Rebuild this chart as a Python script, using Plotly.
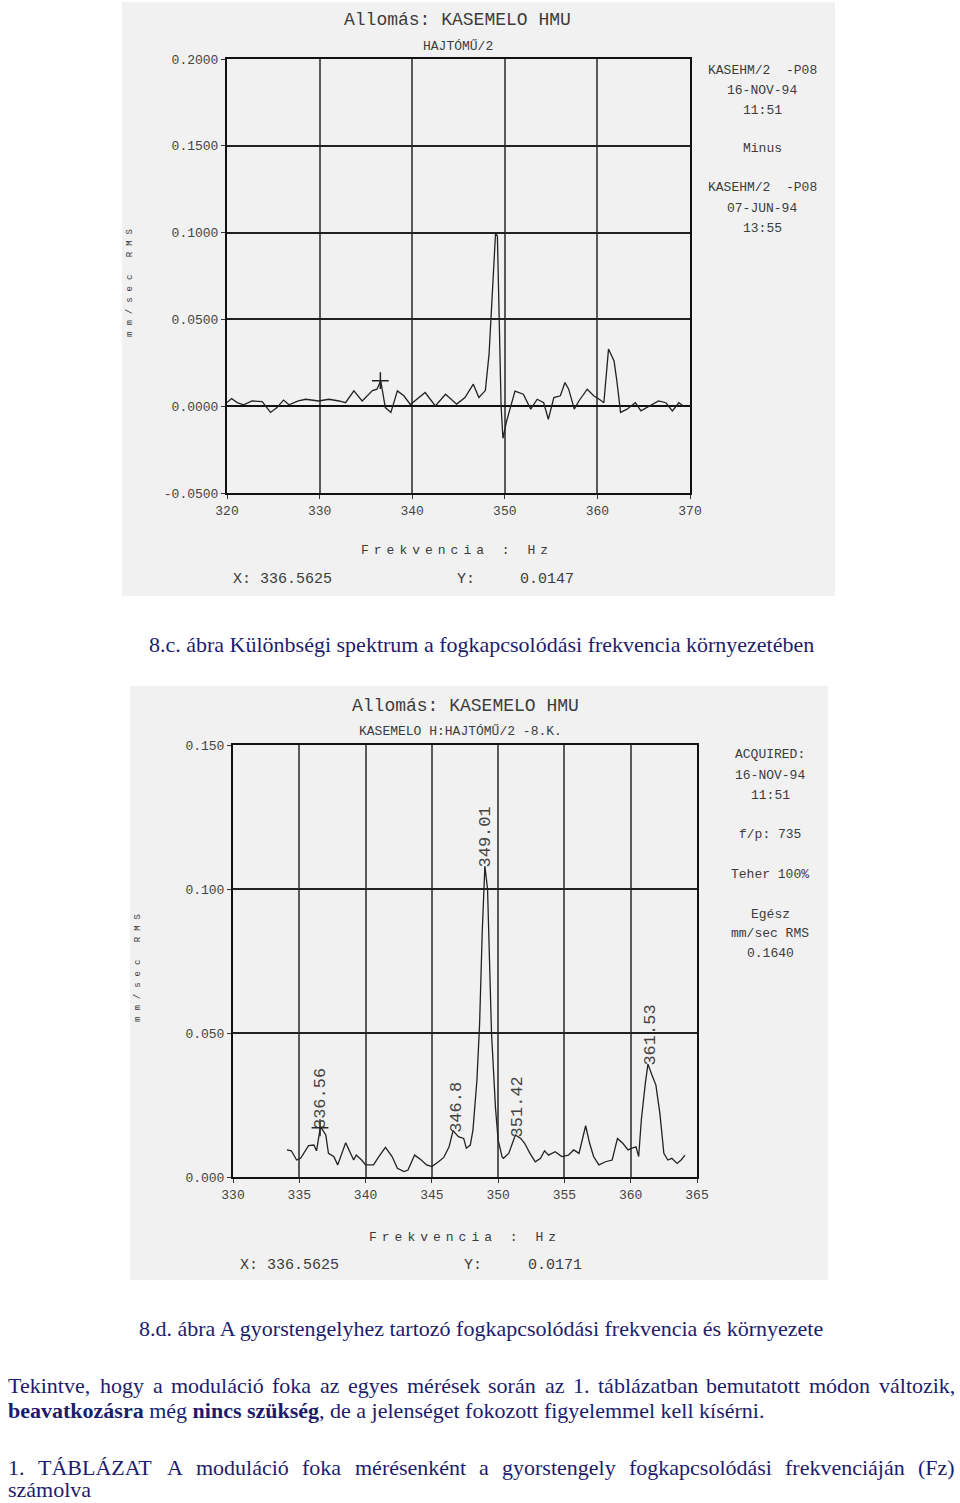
import plotly.graph_objects as go

W, H = 960, 1503

# ---------------- data: top chart (difference spectrum) ----------------
top_freq = [320.0, 320.5, 321.1, 321.8, 322.7, 323.8, 324.7, 325.4, 326.1, 326.7,
            327.7, 328.5, 329.9, 331.0, 332.1, 332.8, 333.7, 334.6, 335.7, 336.2,
            336.6, 337.1, 337.7, 338.4, 339.1, 339.8, 341.4, 342.5, 343.6, 344.8,
            345.7, 346.6, 347.2, 347.9, 348.3, 348.7, 349.0, 349.2, 349.4, 349.6,
            349.8, 350.2, 351.1, 352.0, 352.8, 353.5, 354.2, 354.7, 355.3, 356.0,
            356.5, 356.9, 357.5, 358.0, 358.9, 359.6, 360.2, 360.7, 361.2, 361.8,
            362.1, 362.5, 363.2, 364.1, 364.7, 365.6, 366.6, 367.4, 368.1, 368.8,
            369.3]
top_amp = [0.0021, 0.0044, 0.0021, 0.0008, 0.0030, 0.0027, -0.0036, -0.0008, 0.0035, 0.0008,
           0.0030, 0.0040, 0.0030, 0.0040, 0.0030, 0.0020, 0.0088, 0.0030, 0.0090, 0.0098,
           0.0146, -0.0008, -0.0036, 0.0088, 0.0060, 0.0010, 0.0079, 0.0002, 0.0069, 0.0012,
           0.0050, 0.0127, 0.0050, 0.0090, 0.0300, 0.0700, 0.0995, 0.0980, 0.0500, 0.0000,
           -0.0185, -0.0085, 0.0087, 0.0069, -0.0017, 0.0040, 0.0020, -0.0075, 0.0050, 0.0060,
           0.0136, 0.0098, -0.0017, 0.0030, 0.0098, 0.0060, 0.0040, 0.0020, 0.0329, 0.0260,
           0.0146, -0.0036, -0.0017, 0.0020, -0.0027, 0.0000, 0.0030, 0.0020, -0.0027, 0.0020,
           0.0000]

top_xticks = [320, 330, 340, 350, 360, 370]
top_yticks = [-0.05, 0.0, 0.05, 0.10, 0.15, 0.20]
top_ytext = ["-0.0500", "0.0000", "0.0500", "0.1000", "0.1500", "0.2000"]
top_cursor_x = 336.5625
top_cursor_y = 0.0147

# ---------------- data: bottom chart (spectrum) ----------------
bot_freq = [334.07, 334.4, 334.8, 335.1, 335.7, 336.1, 336.3, 336.6, 337.0, 337.2,
            337.6, 337.9, 338.5, 338.8, 339.1, 339.3, 339.7, 340.0, 340.6, 341.0,
            341.5, 342.0, 342.4, 342.9, 343.2, 343.7, 344.2, 344.6, 345.0, 345.5,
            345.9, 346.3, 346.6, 347.0, 347.4, 347.6, 347.9, 348.1, 348.4, 348.6,
            348.8, 349.0, 349.2, 349.5, 349.8, 350.0, 350.3, 350.4, 350.8, 351.3,
            351.7, 352.0, 352.4, 352.8, 353.2, 353.5, 353.8, 354.3, 354.8, 355.3,
            355.7, 356.1, 356.6, 356.9, 357.2, 357.6, 358.1, 358.6, 359.0, 359.4,
            359.8, 360.1, 360.4, 360.6, 360.8, 361.1, 361.3, 361.6, 361.9, 362.2,
            362.5, 362.8, 363.1, 363.5, 363.8, 364.1]
bot_amp = [0.0094, 0.0091, 0.0059, 0.0065, 0.0109, 0.0111, 0.0091, 0.0175, 0.0146, 0.0082,
           0.0071, 0.0042, 0.0119, 0.0088, 0.0059, 0.0076, 0.0059, 0.0042, 0.0042, 0.0071,
           0.0103, 0.0071, 0.0030, 0.0019, 0.0024, 0.0076, 0.0059, 0.0042, 0.0036, 0.0053,
           0.0068, 0.0105, 0.0161, 0.0140, 0.0134, 0.0100, 0.0111, 0.0163, 0.0337, 0.0530,
           0.0850, 0.1080, 0.1000, 0.0500, 0.0240, 0.0128, 0.0070, 0.0065, 0.0082, 0.0146,
           0.0134, 0.0117, 0.0082, 0.0053, 0.0065, 0.0091, 0.0076, 0.0088, 0.0071, 0.0076,
           0.0094, 0.0082, 0.0178, 0.0117, 0.0071, 0.0042, 0.0053, 0.0059, 0.0134, 0.0117,
           0.0094, 0.0100, 0.0105, 0.0071, 0.0198, 0.0325, 0.0392, 0.0354, 0.0319, 0.0221,
           0.0082, 0.0059, 0.0065, 0.0047, 0.0059, 0.0076]

bot_xticks = [330, 335, 340, 345, 350, 355, 360, 365]
bot_yticks = [0.0, 0.05, 0.10, 0.15]
bot_ytext = ["0.000", "0.050", "0.100", "0.150"]
bot_cursor_x = 336.5625
bot_cursor_y = 0.0171

peak_freqs = [336.56, 346.8, 349.01, 351.42, 361.53]
peak_labels = ["336.56", "346.8", "349.01", "351.42", "361.53"]

# ---------------- texts ----------------
top_title = "Allomás: KASEMELO HMU"
top_sub = "HAJTÓMŰ/2"
top_side = ["KASEHM/2\u00a0\u00a0-P08", "16-NOV-94", "11:51", "Minus",
            "KASEHM/2\u00a0\u00a0-P08", "07-JUN-94", "13:55"]
bot_title = "Allomás: KASEMELO HMU"
bot_sub = "KASEMELO H:HAJTÓMŰ/2 -8.K."
bot_side = ["ACQUIRED:", "16-NOV-94", "11:51", "f/p: 735", "Teher 100%",
            "Egész", "mm/sec RMS", "0.1640"]
ylabel = "mm/sec RMS"
xlabel = "Frekvencia : Hz"
caption_c = "8.c. ábra Különbségi spektrum a fogkapcsolódási frekvencia környezetében"
caption_d = "8.d. ábra A gyorstengelyhez tartozó fogkapcsolódási frekvencia és környezete"
body_line1 = "Tekintve, hogy a moduláció foka az egyes mérések során az 1. táblázatban bemutatott módon változik,"
body_line2 = "<b>beavatkozásra</b> még <b>nincs szükség</b>, de a jelenséget fokozott figyelemmel kell kísérni."
body_line3 = "1. TÁBLÁZAT A moduláció foka mérésenként a gyorstengely fogkapcsolódási frekvenciáján (Fz)"
body_line4 = "számolva"

MONO = "Liberation Mono"
SERIF = "Liberation Serif"
NAVY = "#1c1c6e"
PANEL = "#f1f1f1"
TXT = "#3c3c3c"
BODY = 22

# Times-compatible advance widths (1/1000 em) used to justify body lines
_TW = {' ': 250, ',': 250, '.': 250, '(': 333, ')': 333, ':': 278, '%': 833}
_TW.update({d: 500 for d in "0123456789"})
_TW.update(dict(zip("abcdefghijklmnopqrstuvwxyz",
                    [444, 500, 444, 500, 444, 333, 500, 500, 278, 278, 500, 278, 778,
                     500, 500, 500, 500, 333, 389, 278, 500, 500, 722, 500, 500, 444])))
_TW.update(dict(zip("ABCDEFGHIJKLMNOPQRSTUVWXYZ",
                    [722, 667, 667, 722, 611, 556, 722, 722, 333, 389, 722, 611, 889,
                     722, 722, 556, 722, 667, 556, 611, 722, 722, 944, 722, 722, 611])))
_BASE = str.maketrans("áéíóöőúüűÁÉÍÓÖŐÚÜŰ", "aeiooouuuAEIOOOUUU")


def word_width(w, size):
    return sum(_TW.get(c, 500) for c in w.translate(_BASE)) * size / 1000.0


def px(x):
    return x / W


def py(y):
    return 1 - y / H


fig = go.Figure()
fig.add_trace(go.Scatter(x=top_freq, y=top_amp, xaxis="x", yaxis="y", mode="lines",
                         line=dict(color="#222222", width=1.3), hoverinfo="skip"))
fig.add_trace(go.Scatter(x=[top_cursor_x], y=[top_cursor_y], xaxis="x", yaxis="y",
                         mode="markers", marker=dict(symbol="cross-thin", size=12,
                                                      line=dict(color="#222222", width=1.5))))
fig.add_trace(go.Scatter(x=bot_freq, y=bot_amp, xaxis="x2", yaxis="y2", mode="lines",
                         line=dict(color="#222222", width=1.3), hoverinfo="skip"))
fig.add_trace(go.Scatter(x=[bot_cursor_x], y=[bot_cursor_y], xaxis="x2", yaxis="y2",
                         mode="markers", marker=dict(symbol="cross-thin", size=12,
                                                      line=dict(color="#222222", width=1.5))))

axis_common = dict(showgrid=True, gridwidth=2, showline=True,
                   linecolor="#111111", linewidth=2, mirror=True, ticks="outside",
                   ticklen=4, tickcolor="#333333", zeroline=False, automargin=False,
                   tickfont=dict(family=MONO, size=13, color="#444444"))

fig.update_layout(
    width=W, height=H, margin=dict(l=0, r=0, t=0, b=0, pad=0, autoexpand=False),
    paper_bgcolor="white", plot_bgcolor=PANEL, showlegend=False,
    xaxis=dict(domain=[px(227), px(690)], range=[320, 370], tickvals=top_xticks,
               anchor="y", gridcolor="#5a5a5a", **axis_common),
    yaxis=dict(domain=[py(493), py(59)], range=[-0.05, 0.2], tickvals=top_yticks,
               ticktext=top_ytext, anchor="x", gridcolor="#222222", **axis_common),
    xaxis2=dict(domain=[px(233), px(697)], range=[330, 365], tickvals=bot_xticks,
                anchor="y2", gridcolor="#5a5a5a", **axis_common),
    yaxis2=dict(domain=[py(1177), py(745)], range=[0, 0.15], tickvals=bot_yticks,
                ticktext=bot_ytext, anchor="x2", gridcolor="#222222", **axis_common),
)
fig.update_yaxes(selector=dict(anchor="x"), zeroline=True, zerolinecolor="#111111",
                 zerolinewidth=2)

# panel backgrounds
fig.add_shape(type="rect", xref="paper", yref="paper", x0=px(122), x1=px(835),
              y0=py(596), y1=py(2), fillcolor=PANEL, line=dict(width=0), layer="below")
fig.add_shape(type="rect", xref="paper", yref="paper", x0=px(130), x1=px(828),
              y0=py(1280), y1=py(686), fillcolor=PANEL, line=dict(width=0), layer="below")

ann = []


def text(t, x, y, size, family=MONO, color=TXT, xanchor="center", angle=0):
    ann.append(dict(text=t, x=px(x), y=py(y), xref="paper", yref="paper",
                    xanchor=xanchor, yanchor="middle", showarrow=False, textangle=angle,
                    borderpad=0, font=dict(family=family, size=size, color=color)))


def spaced(t, sp):
    return '<span style="letter-spacing:%dpx">%s</span>' % (sp, t)


def justified(line, x0, x1, y, size):
    words = line.split(" ")
    widths = [word_width(w, size) for w in words]
    gap = (x1 - x0 - sum(widths)) / (len(words) - 1)
    x = x0
    for w, ww in zip(words, widths):
        text(w, x, y, size, family=SERIF, color=NAVY, xanchor="left")
        x += ww + gap


# top chart texts
text(top_title, 457, 20, 18)
text(top_sub, 458, 46, 13)
for t, yy in zip(top_side, [70, 90, 110, 149, 188, 208, 228]):
    text(t, 762, yy, 13)
text(spaced(ylabel, 6), 130, 280, 9, angle=-90)
text(spaced(xlabel, 5), 457, 551, 13)
text("X: %.4f" % top_cursor_x, 282, 579, 15)
text("Y:", 466, 579, 15)
text("%.4f" % top_cursor_y, 547, 579, 15)

# bottom chart texts
text(bot_title, 465, 706, 18)
text(bot_sub, 460, 731, 13)
for t, yy in zip(bot_side, [755, 775, 795, 834, 874, 914, 933, 953]):
    text(t, 770, yy, 13)
text(spaced(ylabel, 6), 138, 965, 9, angle=-90)
text(spaced(xlabel, 5), 465, 1237, 13)
text("X: %.4f" % bot_cursor_x, 289, 1265, 15)
text("Y:", 473, 1265, 15)
text("%.4f" % bot_cursor_y, 555, 1265, 15)

# peak labels (rotated) placed above the local maximum of the curve
for f, lab in zip(peak_freqs, peak_labels):
    near = [a for fr, a in zip(bot_freq, bot_amp) if abs(fr - f) <= 0.35]
    ann.append(dict(text=lab, x=f, y=max(near), xref="x2", yref="y2", showarrow=False,
                    textangle=-90, xanchor="center", yanchor="bottom", yshift=-4,
                    font=dict(family=MONO, size=17, color="#444444")))

# captions and body text
text(caption_c, 481, 644, BODY, family=SERIF, color=NAVY)
text(caption_d, 481, 1328, BODY, family=SERIF, color=NAVY)
justified(body_line1, 7, 954, 1385, BODY)
text(body_line2, 7, 1410, BODY, family=SERIF, color=NAVY, xanchor="left")
justified(body_line3, 7, 954, 1467, BODY)
text(body_line4, 7, 1489, BODY, family=SERIF, color=NAVY, xanchor="left")

fig.update_layout(annotations=ann)
fig.write_html("out.html", config={"displayModeBar": False},
               post_script="document.body.style.margin='0';document.body.style.overflow='hidden';")
